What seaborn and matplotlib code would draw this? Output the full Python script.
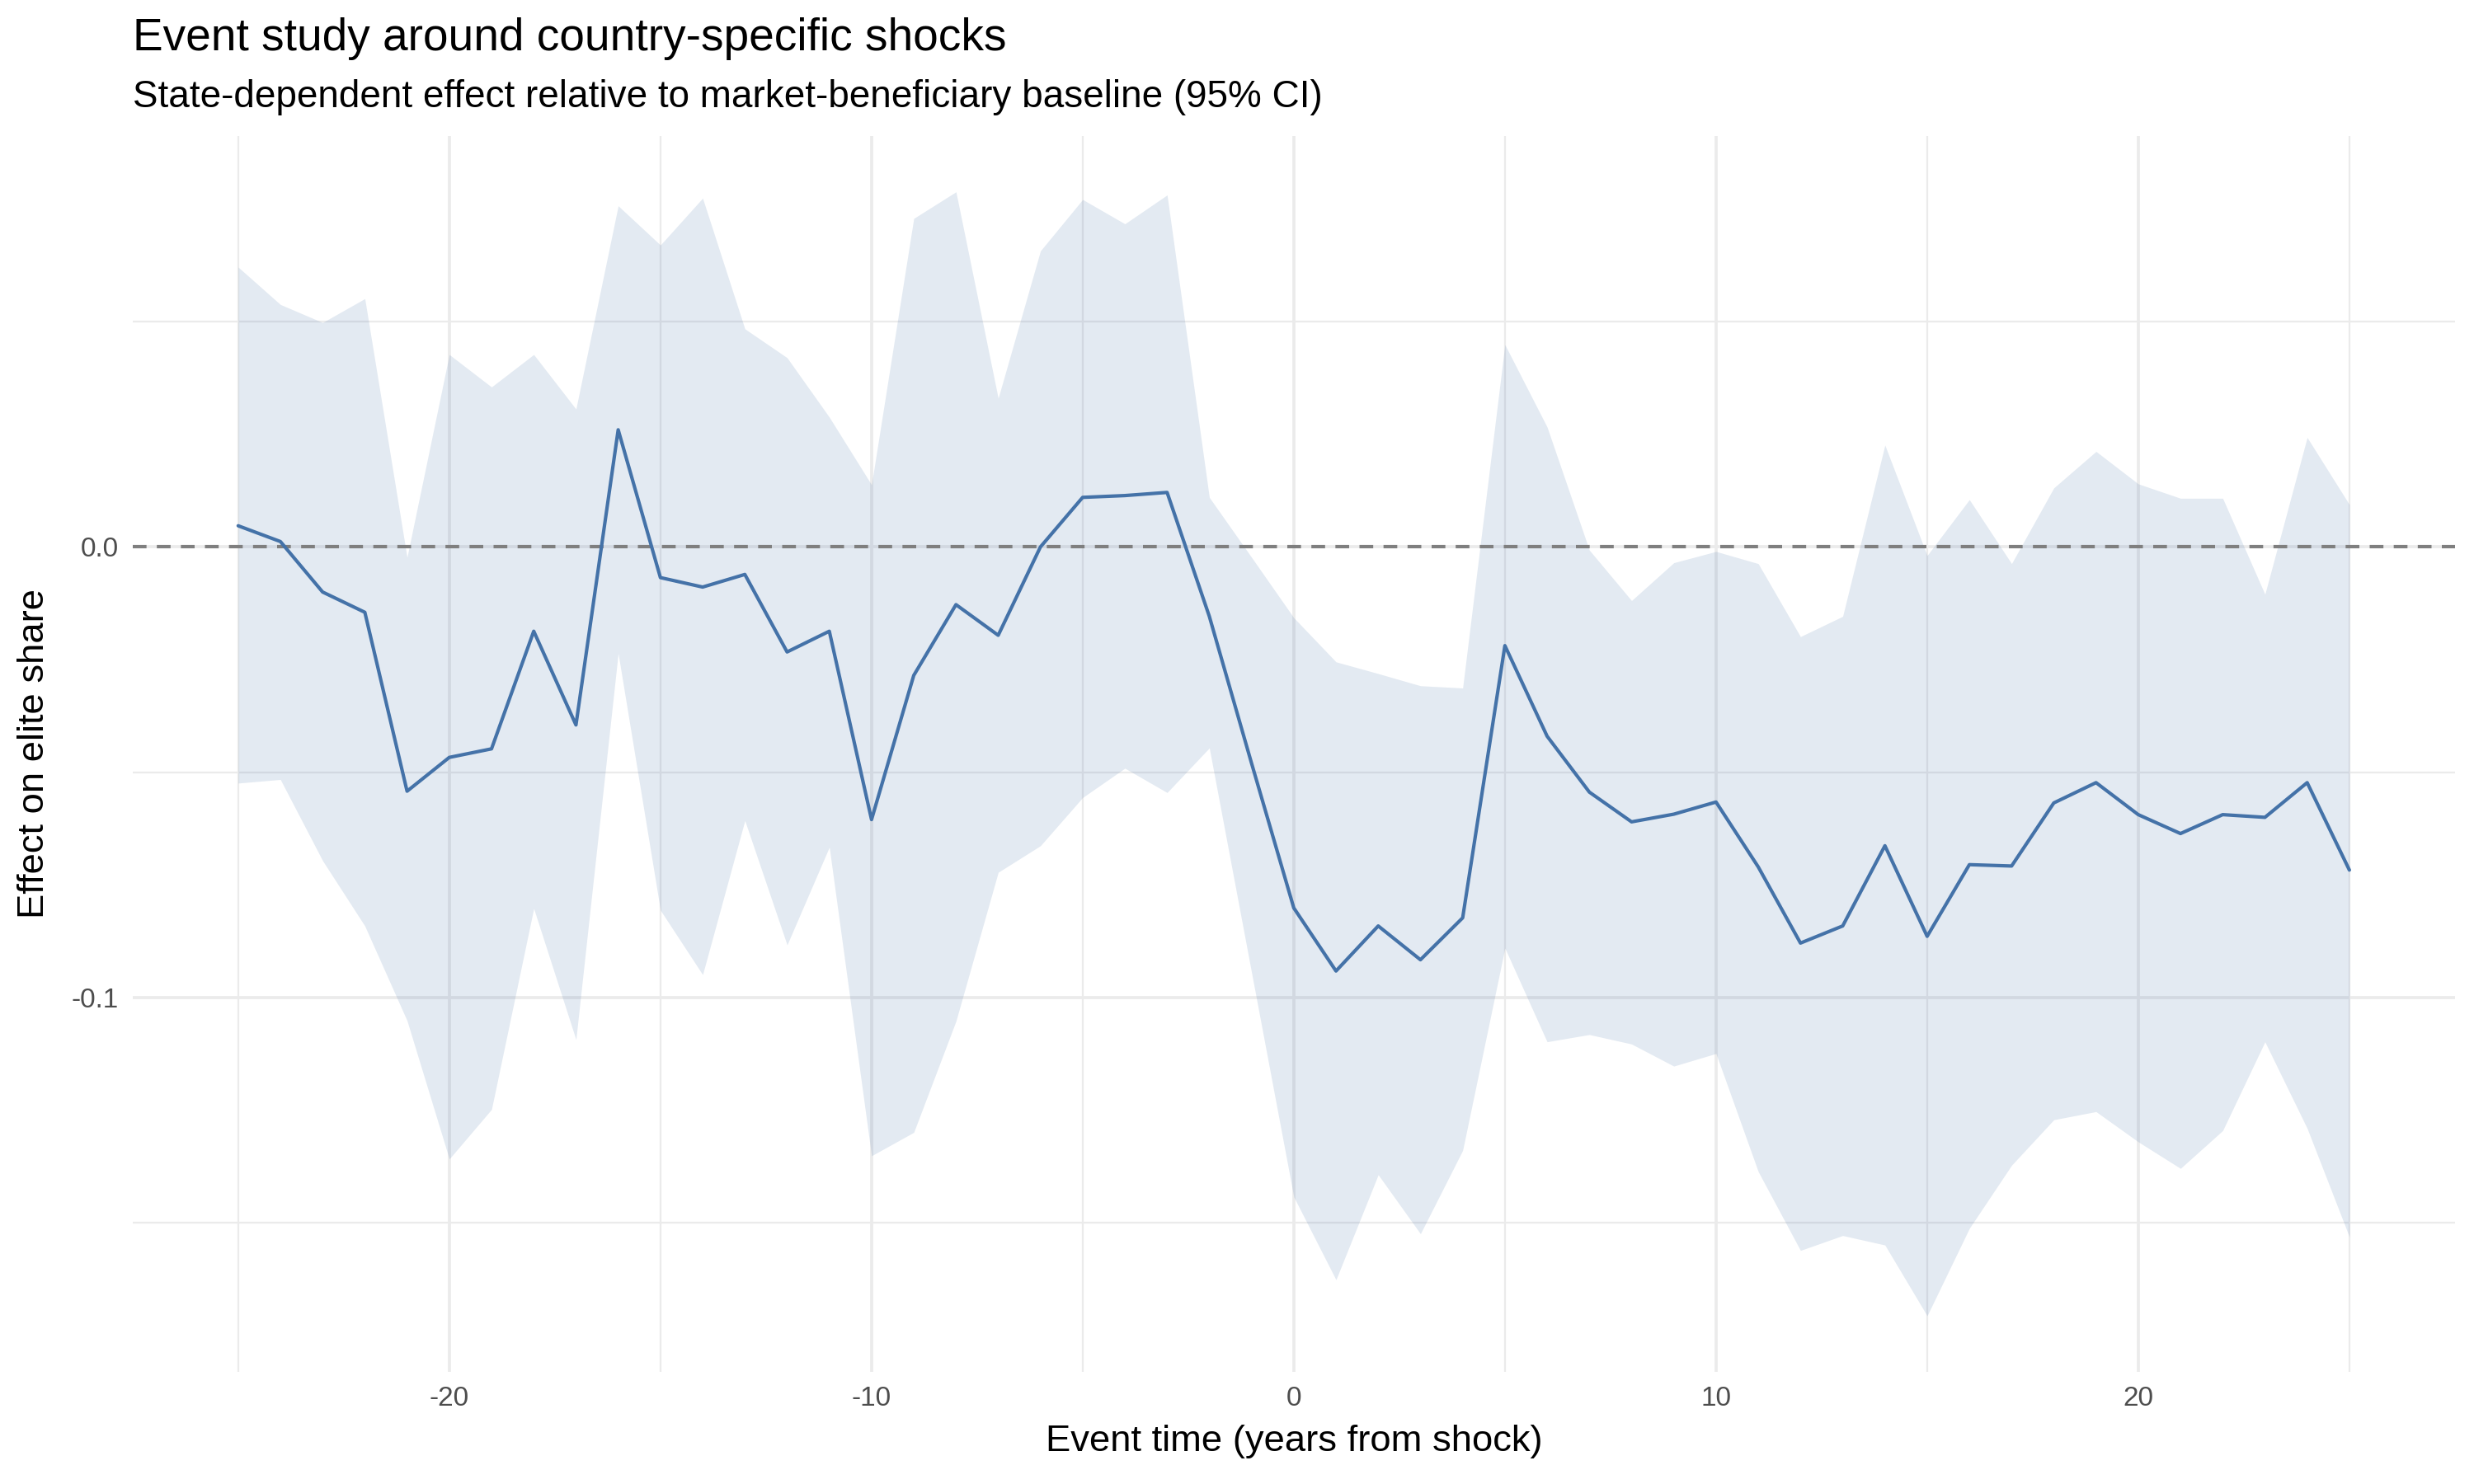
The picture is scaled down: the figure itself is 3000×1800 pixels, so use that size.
import numpy as np
import pandas as pd
import matplotlib
matplotlib.use("Agg")
import matplotlib.pyplot as plt
from matplotlib.ticker import FixedLocator, FuncFormatter
import seaborn as sns

event_time = list(range(-25, 26))
estimate = [0.0047, 0.0012, -0.0100, -0.0145, -0.0542, -0.0467, -0.0448, -0.0187, -0.0395, 0.0260,
            -0.0068, -0.0089, -0.0061, -0.0233, -0.0187, -0.0605, -0.0285, -0.0128, -0.0196, 0.0000,
            0.0110, 0.0114, 0.0121, -0.0154, -0.0480, -0.0801, -0.0941, -0.0841, -0.0916, -0.0823,
            -0.0219, -0.0420, -0.0544, -0.0610, -0.0593, -0.0566, -0.0710, -0.0879, -0.0841, -0.0663,
            -0.0864, -0.0705, -0.0708, -0.0568, -0.0523, -0.0594, -0.0636, -0.0594, -0.0600, -0.0523,
            -0.0717]
ci_upper = [0.0621, 0.0538, 0.0498, 0.0551, -0.0023, 0.0427, 0.0355, 0.0427, 0.0306, 0.0757,
            0.0670, 0.0774, 0.0484, 0.0420, 0.0288, 0.0138, 0.0729, 0.0788, 0.0330, 0.0657,
            0.0771, 0.0717, 0.0781, 0.0110, -0.0023, -0.0157, -0.0255, -0.0281, -0.0308, -0.0313,
            0.0449, 0.0266, -0.0007, -0.0119, -0.0035, -0.0010, -0.0037, -0.0199, -0.0154, 0.0226,
            -0.0019, 0.0105, -0.0037, 0.0131, 0.0212, 0.0140, 0.0108, 0.0108, -0.0105, 0.0243,
            0.0094]
ci_lower = [-0.0524, -0.0516, -0.0696, -0.0841, -0.1051, -0.1358, -0.1248, -0.0802, -0.1093, -0.0236,
            -0.0806, -0.0949, -0.0607, -0.0883, -0.0666, -0.1351, -0.1299, -0.1052, -0.0722, -0.0663,
            -0.0556, -0.0491, -0.0545, -0.0446, -0.0944, -0.1442, -0.1626, -0.1393, -0.1524, -0.1339,
            -0.0890, -0.1098, -0.1082, -0.1103, -0.1152, -0.1124, -0.1386, -0.1561, -0.1528, -0.1549,
            -0.1706, -0.1512, -0.1372, -0.1271, -0.1253, -0.1320, -0.1379, -0.1295, -0.1098, -0.1290,
            -0.1531]

x_major = [-20, -10, 0, 10, 20]
x_minor = [-25, -15, -5, 5, 15, 25]
y_major = [-0.1, 0.0]
y_minor = [-0.15, -0.05, 0.05]

title = "Event study around country-specific shocks"
subtitle = "State-dependent effect relative to market-beneficiary baseline (95% CI)"
xlabel = "Event time (years from shock)"
ylabel = "Effect on elite share"

df = pd.DataFrame({"t": event_time, "est": estimate, "lo": ci_lower, "hi": ci_upper})

sns.set_theme(style="white")
plt.rcParams["font.family"] = ["Liberation Sans", "DejaVu Sans"]
plt.rcParams["axes.unicode_minus"] = False

fig = plt.figure(figsize=(10, 6), dpi=300)
ax = fig.add_axes([0.0536, 0.0755, 0.9387, 0.8331])

line_col = "#4472A8"
ax.fill_between(df["t"], df["lo"], df["hi"], color=line_col, alpha=0.15, linewidth=0, zorder=2)
ax.axhline(0, color="#7F7F7F", linestyle=(0, (4, 3)), linewidth=1.0, zorder=3)
sns.lineplot(data=df, x="t", y="est", ax=ax, color=line_col, linewidth=1.0, zorder=4)

xr = max(event_time) - min(event_time)
ax.set_xlim(min(event_time) - 0.05 * xr, max(event_time) + 0.05 * xr)
ymin, ymax = min(ci_lower), max(ci_upper)
yr = ymax - ymin
ax.set_ylim(ymin - 0.05 * yr, ymax + 0.05 * yr)

ax.xaxis.set_major_locator(FixedLocator(x_major))
ax.xaxis.set_minor_locator(FixedLocator(x_minor))
ax.yaxis.set_major_locator(FixedLocator(y_major))
ax.yaxis.set_minor_locator(FixedLocator(y_minor))
ax.xaxis.set_major_formatter(FuncFormatter(lambda v, p: f"{int(round(v))}"))
ax.yaxis.set_major_formatter(FuncFormatter(lambda v, p: f"{v:.1f}" if abs(v) > 1e-9 else "0.0"))

ax.grid(which="major", color="#EBEBEB", linewidth=0.9, zorder=0)
ax.grid(which="minor", color="#EBEBEB", linewidth=0.55, zorder=0)
ax.set_axisbelow(True)
for s in ax.spines.values():
    s.set_visible(False)
ax.tick_params(which="both", length=0)
ax.tick_params(axis="both", labelsize=8, labelcolor="#4D4D4D", pad=4)

ax.set_xlabel(xlabel, fontsize=10.9, color="black", labelpad=4)
ax.set_ylabel(ylabel, fontsize=10.9, color="black", labelpad=6)

fig.text(0.0536, 0.966, title, fontsize=13.2, color="black", ha="left", va="baseline")
fig.text(0.0536, 0.928, subtitle, fontsize=11, color="black", ha="left", va="baseline")

fig.savefig("out.png", dpi=300, facecolor="white")
